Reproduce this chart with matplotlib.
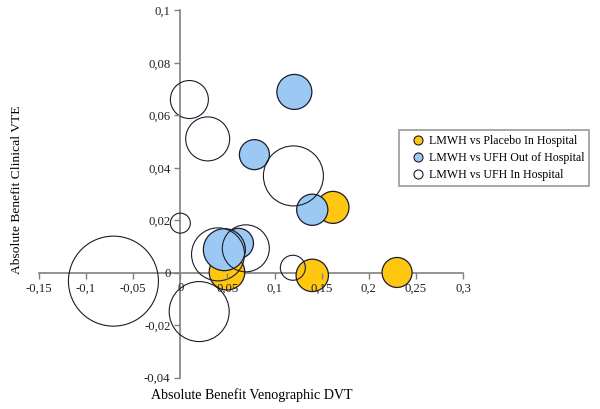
import matplotlib.pyplot as plt
from matplotlib.lines import Line2D

plt.rcParams['font.family'] = ['Liberation Serif', 'DejaVu Serif']

# LMWH vs Placebo In Hospital
placebo_dvt = [0.0495, 0.162, 0.140, 0.230]
placebo_vte = [0.0002, 0.0249, -0.001, 0.0001]
placebo_size = [17.8, 16.0, 16.2, 15.0]

# LMWH vs UFH Out of Hospital
out_dvt = [0.121, 0.0786, 0.140, 0.0617, 0.0467]
out_vte = [0.0689, 0.045, 0.024, 0.0112, 0.0088]
out_size = [17.5, 15.0, 15.6, 15.0, 21.0]

# LMWH vs UFH In Hospital
in_dvt = [-0.071, 0.0, 0.020, 0.0096, 0.029, 0.120, 0.1194, 0.040, 0.0695]
in_vte = [-0.0032, 0.0189, -0.0148, 0.066, 0.051, 0.0369, 0.0019, 0.0070, 0.0093]
in_size = [45, 10, 30, 19, 22, 30, 12.5, 26.5, 23.5]

xticks = [-0.15, -0.1, -0.05, 0, 0.05, 0.1, 0.15, 0.2, 0.25, 0.3]
yticks = [-0.04, -0.02, 0, 0.02, 0.04, 0.06, 0.08, 0.1]

YELLOW = '#FFC710'
BLUE = '#9CC8F4'
EDGE = '#1c1c2a'


def bubble(size):
    # size is bubble radius in pixels at 100 dpi -> marker area in points^2
    return [(1.44 * r) ** 2 for r in size]


def comma(v):
    return ('%g' % v).replace('.', ',')


fig = plt.figure(figsize=(6, 4.09), dpi=100)
ax = fig.add_axes([0.065, 0.0765, 0.7067, 0.8983])

ax.scatter(placebo_dvt, placebo_vte, s=bubble(placebo_size), facecolor=YELLOW,
           edgecolor=EDGE, linewidth=0.9, zorder=3)
ax.scatter(out_dvt, out_vte, s=bubble(out_size), facecolor=BLUE,
           edgecolor=EDGE, linewidth=0.9, zorder=4)
ax.scatter(in_dvt, in_vte, s=bubble(in_size), facecolor='none',
           edgecolor=EDGE, linewidth=0.8, zorder=5)

ax.set_xlim(-0.15, 0.3)
ax.set_ylim(-0.04, 0.1)
ax.spines['left'].set_position(('data', 0))
ax.spines['bottom'].set_position(('data', 0))
ax.spines['top'].set_visible(False)
ax.spines['right'].set_visible(False)
for sp in ('left', 'bottom'):
    ax.spines[sp].set_color('#808080')
    ax.spines[sp].set_linewidth(1.2)
    ax.spines[sp].set_zorder(1)

ax.set_xticks(xticks)
ax.set_xticklabels([comma(v) for v in xticks])
ax.set_yticks(yticks)
ax.set_yticklabels([comma(v) for v in yticks])
ax.tick_params(axis='both', direction='out', length=4, width=1, color='#808080',
               labelsize=9.2, labelcolor='#222222', pad=3)
ax.xaxis.set_zorder(6)
ax.yaxis.set_zorder(6)
ax.patch.set_visible(False)

fig.text(0.419, 0.034, 'Absolute Benefit Venographic DVT', ha='center', va='center',
         fontsize=10.1)
fig.text(0.028, 0.535, 'Absolute Benefit Clinical VTE', ha='center', va='center',
         rotation=90, fontsize=9.7)

handles = [
    Line2D([], [], ls='none', marker='o', markersize=6.5, markerfacecolor=YELLOW,
           markeredgecolor=EDGE, markeredgewidth=0.8),
    Line2D([], [], ls='none', marker='o', markersize=6.5, markerfacecolor=BLUE,
           markeredgecolor=EDGE, markeredgewidth=0.8),
    Line2D([], [], ls='none', marker='o', markersize=6.5, markerfacecolor='white',
           markeredgecolor=EDGE, markeredgewidth=0.8),
]
labels = ['LMWH vs Placebo In Hospital', 'LMWH vs UFH Out of Hospital',
          'LMWH vs UFH In Hospital']
leg = fig.legend(handles, labels, loc='upper left', bbox_to_anchor=(0.6655, 0.682),
                 fontsize=8.6, frameon=True, fancybox=False, edgecolor='#808080',
                 handletextpad=-0.2, handlelength=2.3, borderpad=0.4,
                 labelspacing=0.42, borderaxespad=0)
leg.get_frame().set_linewidth(1.2)

fig.savefig('out.png', dpi=100)
